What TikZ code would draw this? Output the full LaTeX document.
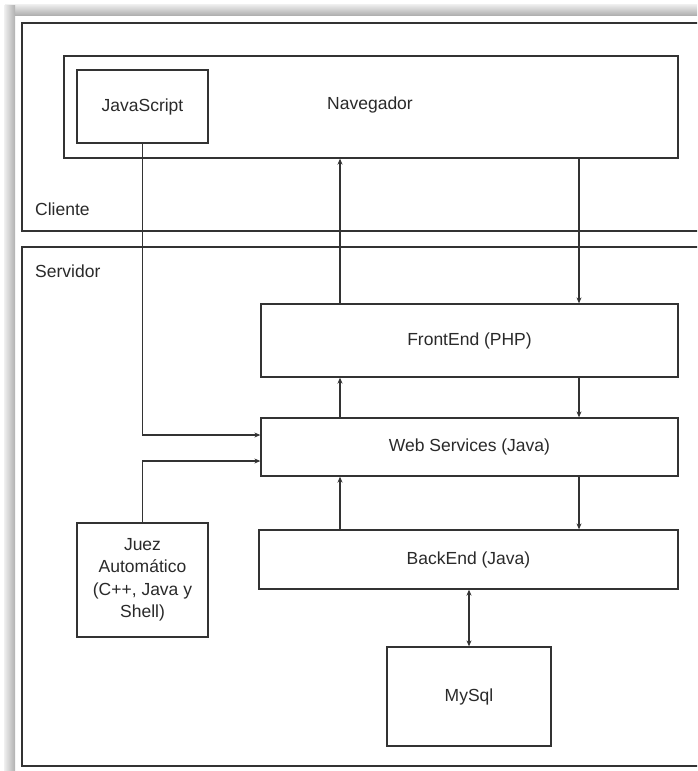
\documentclass[tikz,border=0pt]{standalone}
\usepackage{fontspec}
\setmainfont{Liberation Sans}
\usetikzlibrary{arrows.meta}
\definecolor{linegray}{HTML}{333333}
\definecolor{textgray}{HTML}{2A2A2A}
\tikzset{
  box/.style={draw=linegray, line width=1.3pt, fill=white, inner sep=0pt,
    align=center, text=textgray, font=\fontsize{17.5}{22.5}\selectfont},
  lbl/.style={anchor=west, inner sep=0pt, text=textgray,
    font=\fontsize{17.5}{22.5}\selectfont},
  link/.style={draw=linegray, line width=1.3pt,
    -{Stealth[length=6pt,width=5pt]}},
  dlink/.style={draw=linegray, line width=1.3pt,
    {Stealth[length=6pt,width=5pt]}-{Stealth[length=6pt,width=5pt]}}
}
\begin{document}
\begin{tikzpicture}[x=1pt, y=-1pt]
      \useasboundingbox (0,0) rectangle (697,771);
      \fill[white] (0,0) rectangle (697,771);
      \clip (0,0) rectangle (697,771);
      %
      \shade[top color=gray!12, bottom color=gray!62] (5,4) rectangle (697,15); % shadow
      \shade[left color=gray!12, right color=gray!62] (4,5) rectangle (15,771);
      %
      \draw[linegray, line width=1.3pt] (22,23) rectangle (720,231);   % client area
      \draw[linegray, line width=1.3pt] (22,247) rectangle (720,766);  % server area
      \node[lbl] (cliente) at (35,209) {Cliente};
      \node[lbl] (servidor) at (35,271) {Servidor};
      %
      \node[box, minimum width=614pt, minimum height=102pt] (nav) at (371,107) {};
      \node[text=textgray, font=\fontsize{17.5}{22.5}\selectfont] (navtxt) at (370,105) {Navegador};
      \node[box, minimum width=131pt, minimum height=73pt] (js) at (142.5,106.5) {JavaScript};
      %
      \node[box, minimum width=417pt, minimum height=73pt] (front) at (469.5,340.5) {FrontEnd (PHP)};
      \node[box, minimum width=417pt, minimum height=58pt] (ws) at (469.5,447) {Web Services (Java)};
      \node[box, minimum width=419pt, minimum height=59pt] (back) at (468.5,559.5) {BackEnd (Java)};
      \node[box, minimum width=164pt, minimum height=99pt] (mysql) at (469,696.5) {MySql};
      \node[box, minimum width=131pt, minimum height=114pt] (juez) at (142.5,580)
        {Juez\\Automático\\(C++, Java y\\Shell)};
      %
      \coordinate (up) at (340,0);   % upward column
      \coordinate (dn) at (579,0);   % downward column
      %
      \draw[link] (front.north -| up) -- (nav.south -| up);
      \draw[link] (nav.south -| dn) -- (front.north -| dn);
      \draw[link] (ws.north -| up) -- (front.south -| up);
      \draw[link] (front.south -| dn) -- (ws.north -| dn);
      \draw[link] (back.north -| up) -- (ws.south -| up);
      \draw[link] (ws.south -| dn) -- (back.north -| dn);
      \draw[dlink] (back.south -| mysql.north) -- (mysql.north);
      %
      \draw[link] (js.south) |- ([yshift=12pt]ws.west);
      \draw[link] (juez.north) |- ([yshift=-14pt]ws.west);
    \end{tikzpicture}
\end{document}
